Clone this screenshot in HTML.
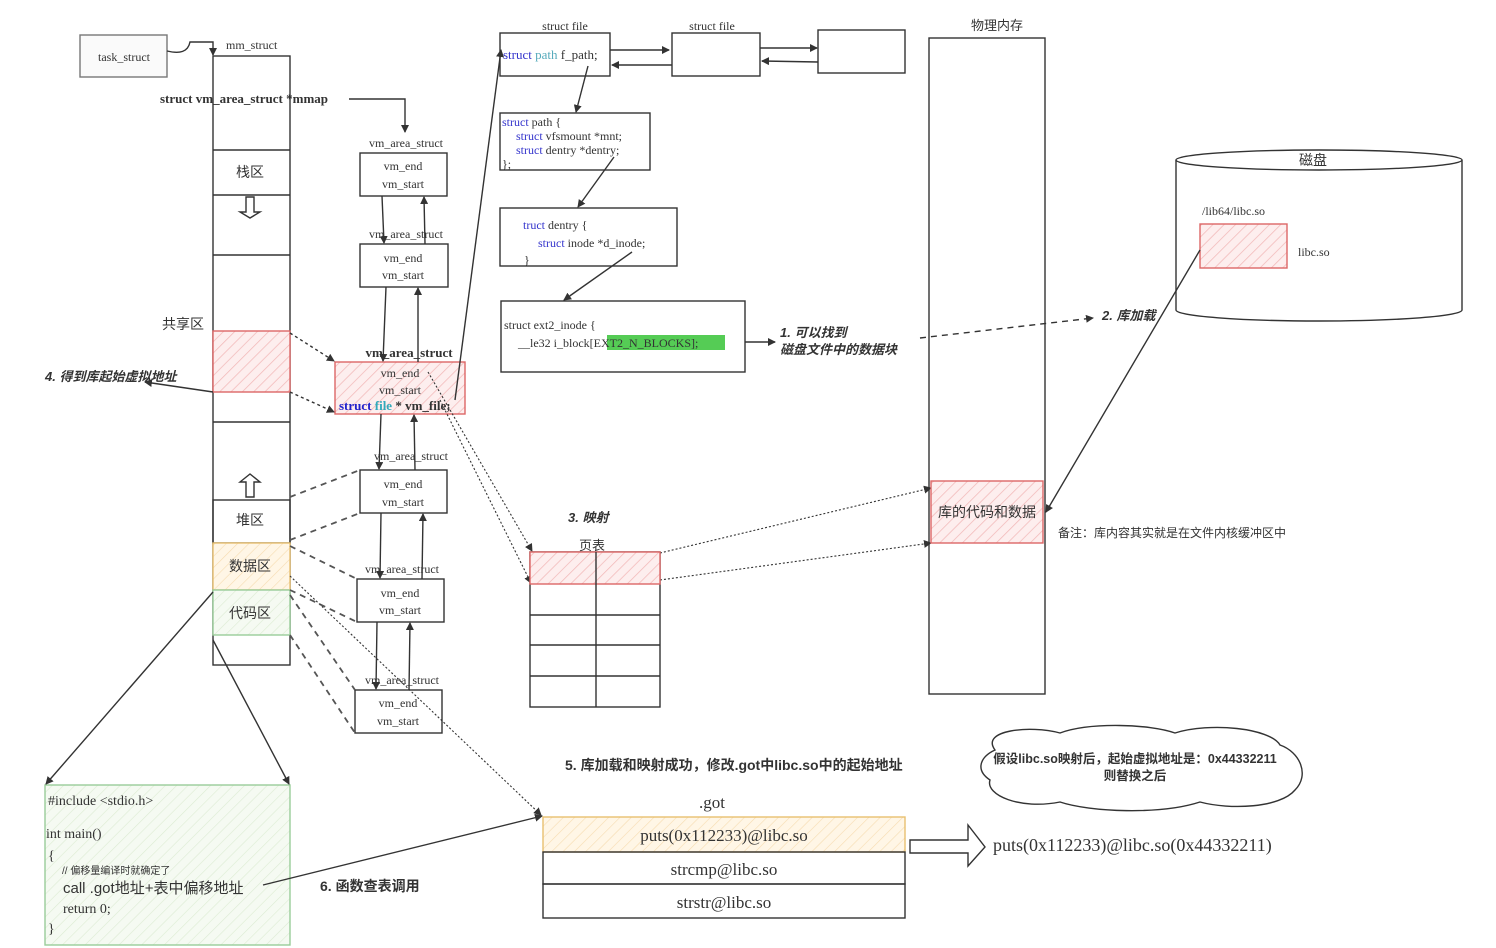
<!DOCTYPE html>
<html><head><meta charset="utf-8"><style>
html,body{margin:0;padding:0;background:#fff}
svg{display:block}
text{font-family:"Liberation Serif","Noto Serif CJK SC",serif;fill:#333}
.cj{font-family:"Liberation Sans","Noto Sans CJK SC",sans-serif}
</style></head><body>
<svg width="1496" height="948" viewBox="0 0 1496 948" xmlns="http://www.w3.org/2000/svg">
<defs>
<pattern id="hr" width="8" height="8" patternUnits="userSpaceOnUse" patternTransform="rotate(45)"><rect width="8" height="8" fill="#fdeeee"/><line x1="0" y1="0" x2="0" y2="8" stroke="#f2b8b8" stroke-width="1.5"/></pattern>
<pattern id="ho" width="8" height="8" patternUnits="userSpaceOnUse" patternTransform="rotate(45)"><rect width="8" height="8" fill="#fff6e6"/><line x1="0" y1="0" x2="0" y2="8" stroke="#f6dcb0" stroke-width="1.2"/></pattern>
<pattern id="hg" width="8" height="8" patternUnits="userSpaceOnUse" patternTransform="rotate(45)"><rect width="8" height="8" fill="#f5faf2"/><line x1="0" y1="0" x2="0" y2="8" stroke="#dcebd3" stroke-width="1.2"/></pattern>
<marker id="a" markerWidth="8" markerHeight="8" refX="7" refY="4" orient="auto" markerUnits="userSpaceOnUse"><path d="M0,0 L8,4 L0,8 z" fill="#333"/></marker>
</defs>
<g fill="none" stroke="#333" stroke-width="1.4">
<rect x="80" y="35" width="87" height="42" stroke="#777" fill="#fafafa"/>
<path d="M167,51 C180,54 188,52 190,42 L213,42 L213,55" marker-end="url(#a)"/>
<rect x="213" y="56" width="77" height="609"/>
<line x1="213" y1="150" x2="290" y2="150"/><line x1="213" y1="195" x2="290" y2="195"/>
<line x1="213" y1="255" x2="290" y2="255"/><line x1="213" y1="422" x2="290" y2="422"/>
<rect x="213" y="331" width="77" height="61" stroke="#d66" fill="url(#hr)"/>
<rect x="213" y="500" width="77" height="43"/>
<rect x="213" y="543" width="77" height="47" stroke="#e8c070" fill="url(#ho)"/>
<rect x="213" y="590" width="77" height="45" stroke="#9c9" fill="url(#hg)"/>
<path d="M246,197 L254,197 L254,212 L260,212 L250,218 L240,212 L246,212 z"/>
<path d="M246,497 L254,497 L254,482 L260,482 L250,474 L240,482 L246,482 z"/>
<path d="M349,99 L405,99 L405,132" marker-end="url(#a)"/>
<path d="M213,392 L145,382" marker-end="url(#a)"/>
<rect x="360" y="153" width="87" height="43"/>
<rect x="360" y="244" width="88" height="43"/>
<rect x="335" y="362" width="130" height="52" stroke="#d66" fill="url(#hr)"/>
<rect x="360" y="470" width="87" height="43"/>
<rect x="357" y="579" width="87" height="43"/>
<rect x="355" y="690" width="87" height="43"/>
<path d="M382,196 L384,243" marker-end="url(#a)"/><path d="M425,244 L424,197" marker-end="url(#a)"/>
<path d="M386,287 L383,361" marker-end="url(#a)"/><path d="M418,362 L418,288" marker-end="url(#a)"/>
<path d="M381,414 L379,469" marker-end="url(#a)"/><path d="M415,470 L414,415" marker-end="url(#a)"/>
<path d="M381,513 L380,578" marker-end="url(#a)"/><path d="M422,579 L423,514" marker-end="url(#a)"/>
<path d="M377,622 L376,689" marker-end="url(#a)"/><path d="M409,690 L410,623" marker-end="url(#a)"/>
<g stroke-dasharray="3,3"><path d="M290,333 L334,361" marker-end="url(#a)"/><path d="M290,392 L334,412" marker-end="url(#a)"/></g>
<g stroke-dasharray="6,5" stroke-width="1.8" stroke="#555"><path d="M290,497 L360,470"/><path d="M290,540 L360,513"/><path d="M290,546 L357,579"/><path d="M290,590 L357,622"/><path d="M290,595 L355,690"/><path d="M290,635 L355,733"/></g>
<g stroke-dasharray="2,2" stroke-width="1.1"><path d="M290,576 L541,815" marker-end="url(#a)"/><path d="M428,372 L532,551" marker-end="url(#a)"/><path d="M440,400 L531,583" marker-end="url(#a)"/>
<path d="M660,553 L931,488" marker-end="url(#a)"/><path d="M660,580 L931,543" marker-end="url(#a)"/></g>
<path d="M455,400 L501,50" marker-end="url(#a)"/>
<rect x="500" y="33" width="110" height="43"/><rect x="672" y="33" width="88" height="43"/><rect x="818" y="30" width="87" height="43"/>
<path d="M610,50 L669,50" marker-end="url(#a)"/><path d="M672,65 L612,65" marker-end="url(#a)"/>
<path d="M760,48 L817,48" marker-end="url(#a)"/><path d="M818,62 L762,61" marker-end="url(#a)"/>
<rect x="500" y="113" width="150" height="57"/>
<rect x="500" y="208" width="177" height="58"/>
<rect x="501" y="301" width="244" height="71"/>
<path d="M588,66 L576,112" marker-end="url(#a)"/><path d="M614,157 L578,207" marker-end="url(#a)"/><path d="M632,252 L564,300" marker-end="url(#a)"/>
<path d="M745,342 L775,342" marker-end="url(#a)"/>
<path d="M920,338 L1093,318" stroke-dasharray="6,5" marker-end="url(#a)"/>
<rect x="929" y="38" width="116" height="656"/>
<rect x="931" y="481" width="112" height="62" stroke="#d66" fill="url(#hr)"/>
<path d="M1176,160 L1176,310 A143,11 0 0 0 1462,310 L1462,160"/>
<ellipse cx="1319" cy="160" rx="143" ry="10"/>
<rect x="1200" y="224" width="87" height="44" stroke="#d66" fill="url(#hr)"/>
<path d="M1200,250 L1046,512" marker-end="url(#a)"/>
<rect x="530" y="552" width="130" height="155"/>
<rect x="530" y="552" width="130" height="32" stroke="#d66" fill="url(#hr)"/>
<line x1="596" y1="552" x2="596" y2="707"/>
<line x1="530" y1="615" x2="660" y2="615"/><line x1="530" y1="645" x2="660" y2="645"/><line x1="530" y1="676" x2="660" y2="676"/>
<rect x="543" y="817" width="362" height="35" stroke="#e8c070" fill="url(#ho)"/>
<rect x="543" y="852" width="362" height="32"/><rect x="543" y="884" width="362" height="34"/>
<path d="M910,840 L968,840 L968,825 L985,847 L968,866 L968,853 L910,853 z"/>
<path d="M995,750 C980,730 1030,725 1060,733 C1090,722 1150,724 1175,733 C1210,722 1270,728 1280,745 C1300,752 1310,775 1295,790 C1280,808 1230,810 1200,802 C1160,815 1090,812 1060,802 C1020,810 985,795 990,780 C975,770 980,757 995,750 z"/>
<rect x="45" y="785" width="245" height="160" stroke="#9c9" fill="url(#hg)"/>
<path d="M213,592 L46,784" marker-end="url(#a)"/><path d="M213,640 L289,784" marker-end="url(#a)"/>
<path d="M263,885 L542,816" marker-end="url(#a)"/>
</g>
<g font-size="12">
<text x="124" y="61" text-anchor="middle" fill="#666">task_struct</text>
<text x="226" y="49">mm_struct</text>
<text x="160" y="103" font-weight="bold" font-size="13">struct vm_area_struct *mmap</text>
<text x="250" y="177" text-anchor="middle" class="cj" font-size="14">栈区</text>
<text x="183" y="329" text-anchor="middle" class="cj" font-size="14">共享区</text>
<text x="45" y="381" class="cj" font-size="13" font-weight="bold" font-style="italic">4. 得到库起始虚拟地址</text>
<text x="250" y="525" text-anchor="middle" class="cj" font-size="14">堆区</text>
<text x="250" y="571" text-anchor="middle" class="cj" font-size="14">数据区</text>
<text x="250" y="618" text-anchor="middle" class="cj" font-size="14">代码区</text>
<g text-anchor="middle">
<text x="406" y="147">vm_area_struct</text><text x="403" y="170">vm_end</text><text x="403" y="188">vm_start</text>
<text x="406" y="238">vm_area_struct</text><text x="403" y="262">vm_end</text><text x="403" y="279">vm_start</text>
<text x="409" y="357" font-weight="bold" font-size="13">vm_area_struct</text><text x="400" y="377">vm_end</text><text x="400" y="394">vm_start</text>
<text x="411" y="460">vm_area_struct</text><text x="403" y="488">vm_end</text><text x="403" y="506">vm_start</text>
<text x="402" y="573">vm_area_struct</text><text x="400" y="597">vm_end</text><text x="400" y="614">vm_start</text>
<text x="402" y="684">vm_area_struct</text><text x="398" y="707">vm_end</text><text x="398" y="725">vm_start</text>
<text x="565" y="30">struct file</text><text x="712" y="30">struct file</text>
<text x="997" y="30" class="cj" font-size="13">物理内存</text>
<text x="987" y="517" class="cj" font-size="14">库的代码和数据</text>
<text x="1313" y="165" class="cj" font-size="14">磁盘</text>
<text x="592" y="550" class="cj" font-size="13">页表</text>
<text x="712" y="808" font-size="17">.got</text>
<text x="724" y="841" font-size="17">puts(0x112233)@libc.so</text>
<text x="724" y="875" font-size="17">strcmp@libc.so</text>
<text x="724" y="908" font-size="17">strstr@libc.so</text>
<text x="1135" y="763" class="cj" font-size="12.5" font-weight="bold">假设libc.so映射后，起始虚拟地址是：0x44332211</text>
<text x="1135" y="780" class="cj" font-size="12.5" font-weight="bold">则替换之后</text>
</g>
<text x="339" y="410" font-size="13" font-weight="bold"><tspan fill="#22c">struct</tspan> <tspan fill="#3ab">file</tspan> * vm_file;</text>
<text x="503" y="59" font-size="13"><tspan fill="#33c">struct</tspan> <tspan fill="#5ab">path</tspan> f_path;</text>
<text x="502" y="126"><tspan fill="#33c">struct</tspan> path {</text>
<text x="516" y="140"><tspan fill="#33c">struct</tspan> vfsmount *mnt;</text>
<text x="516" y="154"><tspan fill="#33c">struct</tspan> dentry *dentry;</text>
<text x="502" y="168">};</text>
<text x="523" y="229"><tspan fill="#33c">truct</tspan> dentry {</text>
<text x="538" y="247"><tspan fill="#33c">struct</tspan> inode *d_inode;</text>
<text x="524" y="264" fill="#4a4">}</text>
<rect x="607" y="335" width="118" height="15" fill="#5c5"/>
<text x="504" y="329">struct ext2_inode {</text>
<text x="518" y="347">__le32  i_block[EXT2_N_BLOCKS];</text>
<text x="780" y="337" class="cj" font-size="13" font-weight="bold" font-style="italic">1. 可以找到</text>
<text x="780" y="354" class="cj" font-size="13" font-weight="bold" font-style="italic">磁盘文件中的数据块</text>
<text x="1102" y="320" class="cj" font-size="13" font-weight="bold" font-style="italic">2. 库加载</text>
<text x="1058" y="537" class="cj" font-size="12">备注：库内容其实就是在文件内核缓冲区中</text>
<text x="1202" y="215">/lib64/libc.so</text>
<text x="1298" y="256">libc.so</text>
<text x="568" y="522" class="cj" font-size="13" font-weight="bold" font-style="italic">3. 映射</text>
<text x="565" y="770" class="cj" font-size="14" font-weight="bold">5. 库加载和映射成功，修改.got中libc.so中的起始地址</text>
<text x="993" y="851" font-size="18">puts(0x112233)@libc.so(0x44332211)</text>
<text x="48" y="805" font-size="14">#include &lt;stdio.h&gt;</text>
<text x="46" y="838" font-size="14">int main()</text>
<text x="48" y="860" font-size="14">{</text>
<text x="62" y="874" class="cj" font-size="10">// 偏移量编译时就确定了</text>
<text x="63" y="893" font-size="15" class="cj">call .got地址+表中偏移地址</text>
<text x="63" y="913" font-size="14">return 0;</text>
<text x="48" y="933" font-size="14">}</text>
<text x="320" y="891" class="cj" font-size="14" font-weight="bold">6. 函数查表调用</text>
</g>
</svg>
</body></html>
